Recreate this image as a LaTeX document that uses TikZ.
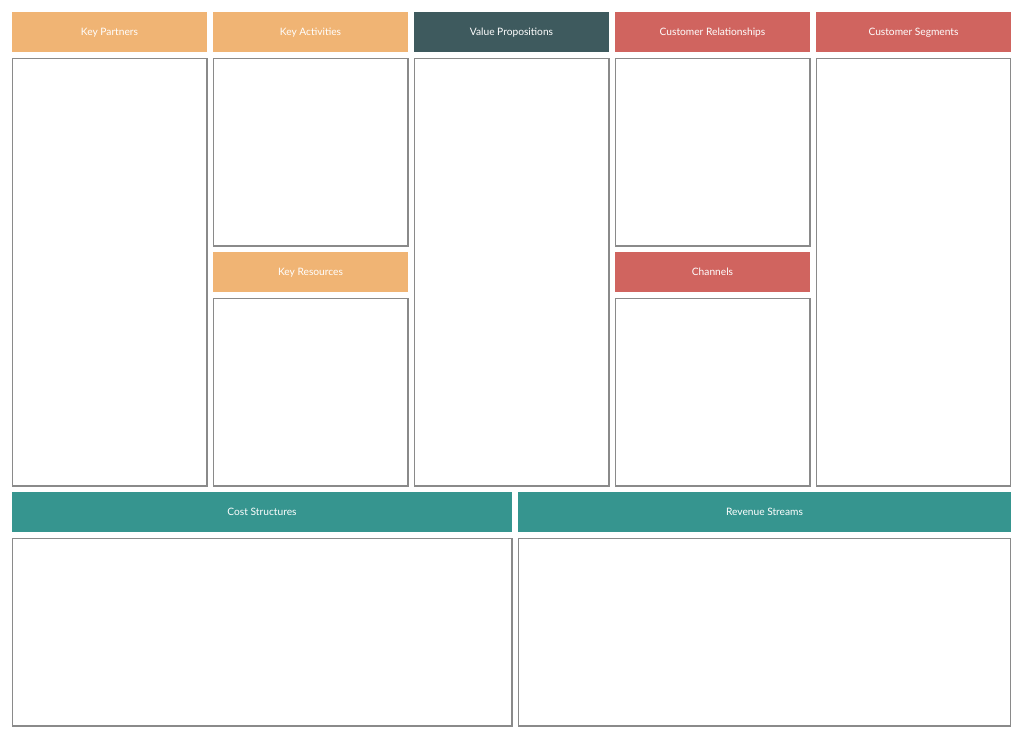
\documentclass[tikz,border=0pt]{standalone}
\usepackage{fontspec}
\setmainfont{Lato}
\definecolor{orng}{HTML}{F0B474}
\definecolor{dteal}{HTML}{3E5A5E}
\definecolor{rred}{HTML}{D0645F}
\definecolor{teal2}{HTML}{36958F}
\definecolor{bord}{HTML}{8A8A8A}
\begin{document}
\begin{tikzpicture}[x=1pt,y=-1pt,
  hdr/.style={inner sep=0pt,text=white,anchor=base,font=\fontsize{10.2}{12}\selectfont},
  cell/.style={draw=bord,line width=1.1pt,fill=white}]
\useasboundingbox[fill=white] (0,0) rectangle (1024,739);
% headers
\fill[orng] (12,12) rectangle (207,52);
\node[hdr] (hkp) at (109.5,35.5) {Key Partners};
\fill[orng] (213,12) rectangle (408,52);
\node[hdr] (hka) at (310.5,35.5) {Key Activities};
\fill[dteal] (414,12) rectangle (609,52);
\node[hdr] (hvp) at (511.5,35.5) {Value Propositions};
\fill[rred] (615,12) rectangle (810,52);
\node[hdr] (hcr) at (712.5,35.5) {Customer Relationships};
\fill[rred] (816,12) rectangle (1011,52);
\node[hdr] (hcs) at (913.5,35.5) {Customer Segments};
\fill[orng] (213,252) rectangle (408,292);
\node[hdr] (hkr) at (310.5,275.5) {Key Resources};
\fill[rred] (615,252) rectangle (810,292);
\node[hdr] (hch) at (712.5,275.5) {Channels};
\fill[teal2] (12,492) rectangle (512,532);
\node[hdr] (hcost) at (262,515.5) {Cost Structures};
\fill[teal2] (518,492) rectangle (1011,532);
\node[hdr] (hrev) at (764.5,515.5) {Revenue Streams};
% cells
\draw[cell] (12.5,58.5) rectangle (207,486);
\draw[cell] (213.5,58.5) rectangle (408,246);
\draw[cell] (213.5,298.5) rectangle (408,486);
\draw[cell] (414.5,58.5) rectangle (609,486);
\draw[cell] (615.5,58.5) rectangle (810,246);
\draw[cell] (615.5,298.5) rectangle (810,486);
\draw[cell] (816.5,58.5) rectangle (1010.5,486);
\draw[cell] (12.5,538.5) rectangle (512,726);
\draw[cell] (518.5,538.5) rectangle (1010.5,726);
\end{tikzpicture}
\end{document}
